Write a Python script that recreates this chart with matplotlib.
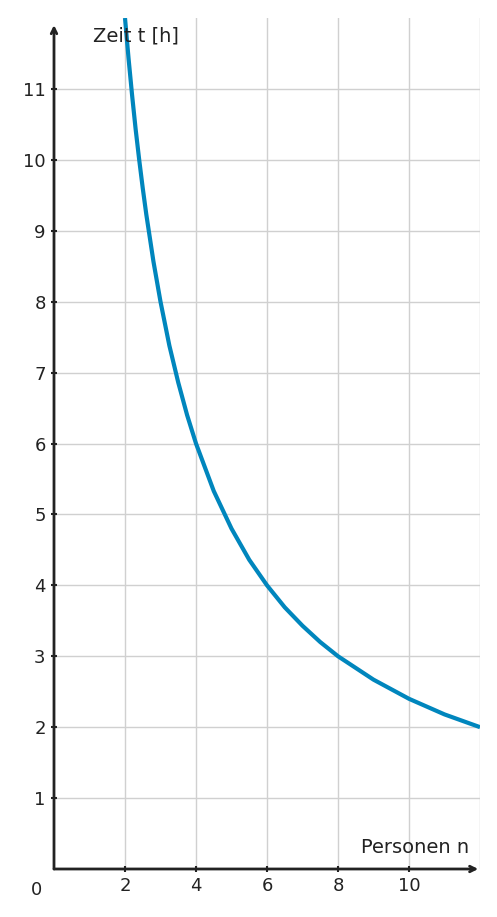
import matplotlib
matplotlib.use("Agg")
import matplotlib.pyplot as plt

persons = [2, 2.1, 2.2, 2.3, 2.4, 2.5, 2.6, 2.8, 3, 3.25, 3.5, 3.75, 4, 4.5, 5, 5.5, 6, 6.5, 7, 7.5, 8, 9, 10, 11, 12]
hours = [12, 11.43, 10.91, 10.43, 10, 9.6, 9.23, 8.57, 8, 7.38, 6.86, 6.4, 6, 5.33, 4.8, 4.36, 4, 3.69, 3.43, 3.2, 3, 2.67, 2.4, 2.18, 2]
xticks = [2, 4, 6, 8, 10]
yticks = [1, 2, 3, 4, 5, 6, 7, 8, 9, 10, 11]

fig = plt.figure(figsize=(4.97, 9.17), dpi=100)
ax = fig.add_axes([54/497, 48/917, 426/497, 851/917])
ax.set_xlim(0, 12)
ax.set_ylim(0, 12)
gc = "#d0d0d0"
for x in xticks + [12]:
    ax.axvline(x, color=gc, lw=1, zorder=0)
for y in yticks:
    ax.axhline(y, color=gc, lw=1, zorder=0)
ax.plot(persons, hours, color="#0086bd", lw=3, zorder=3, solid_capstyle="butt")
for s in ax.spines.values():
    s.set_visible(False)
ax.set_xticks(xticks)
ax.set_yticks(yticks)
ax.tick_params(colors="#222222", labelsize=13, length=5, width=1.5, direction="inout")
ax.annotate("", xy=(11.95, 0), xytext=(0, 0), xycoords="data",
            arrowprops=dict(arrowstyle="->", color="#222222", lw=2, shrinkA=0, shrinkB=0), annotation_clip=False)
ax.annotate("", xy=(0, 11.9), xytext=(0, 0), xycoords="data",
            arrowprops=dict(arrowstyle="->", color="#222222", lw=2, shrinkA=0, shrinkB=0), annotation_clip=False)
ax.text(-0.5, -0.3, "0", ha="center", va="center", fontsize=13, color="#222222")
ax.text(1.1, 11.75, "Zeit t [h]", ha="left", va="center", fontsize=14, color="#222222")
ax.text(11.7, 0.3, "Personen n", ha="right", va="center", fontsize=14, color="#222222")
fig.savefig("out.png", dpi=100)
